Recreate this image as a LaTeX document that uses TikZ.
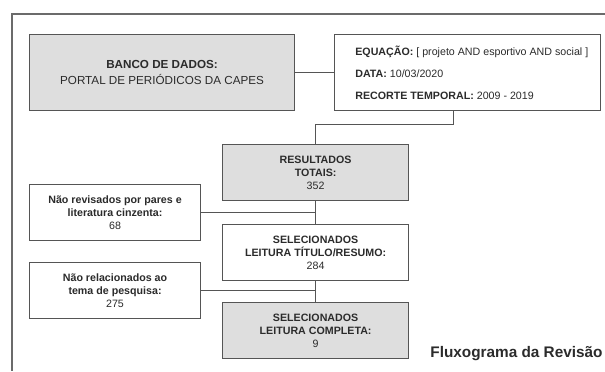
\documentclass[tikz,border=0pt]{standalone}
\usepackage{fontspec}
\setmainfont{Liberation Sans}
\usetikzlibrary{positioning}
\definecolor{boxline}{HTML}{555555}
\definecolor{boxfill}{HTML}{DEDEDE}
\definecolor{txtgray}{HTML}{2B2B2B}
\definecolor{framegray}{HTML}{6B6B6B}
\newcommand{\boxfont}{\fontsize{8}{9.6}\selectfont}
\tikzstyle{gbox}=[rectangle, draw=boxline, fill=boxfill, line width=0.8pt,
                  inner sep=0pt, align=center, text=txtgray, font=\boxfont]
\tikzstyle{wbox}=[gbox, fill=white]
\tikzstyle{cbox}=[minimum width=139.5pt, minimum height=42pt]
\tikzstyle{lbox}=[wbox, minimum width=128.25pt, minimum height=42pt]
\tikzstyle{eqtext}=[inner sep=0pt, align=left, text=txtgray, font=\boxfont]
\tikzstyle{ttext}=[inner sep=0pt, text=txtgray, font=\fontsize{11.5}{13}\selectfont\bfseries]
\tikzstyle{pline}=[-, line width=0.8pt, draw=boxline]

\begin{document}
\begin{tikzpicture}[node distance=0mm]
\useasboundingbox (0,0) rectangle (453.75pt,-278.25pt);

% frame
\coordinate (FRTL) at (9pt,-10.5pt);
\draw[line width=0.8pt, draw=framegray] (453.75pt,-10.5pt) -- (FRTL) -- (9pt,-278.25pt);

\node (BANCO) [gbox, minimum width=198.75pt, minimum height=57pt, anchor=north west,
  font=\fontsize{8.75}{11.5}\selectfont]
  at (21.75pt,-25.5pt) {\textbf{BANCO DE DADOS:}\\PORTAL DE PERIÓDICOS DA CAPES};

\node (EQ) [wbox, minimum width=199.5pt, minimum height=57pt, right=29.25pt of BANCO] {};
\node (EQtxt) [eqtext, anchor=west] at ([xshift=15.75pt]EQ.west)
  {\textbf{EQUAÇÃO:} [ projeto AND esportivo AND social ]\\[6.9pt]
   \textbf{DATA:} 10/03/2020\\[6.9pt]
   \textbf{RECORTE TEMPORAL:} 2009 - 2019};

 \draw[pline] (BANCO.east) -- (EQ.west);

\node (RES) [gbox, cbox, below right=24.75pt and -54.75pt of BANCO]
  {\textbf{RESULTADOS}\\\textbf{TOTAIS:}\\352};

 \draw[pline] ([xshift=-10.5pt]EQ.south) -- ++(0,-9.75pt) -| (RES.north);

\node (SEL) [wbox, cbox, below=17.25pt of RES]
  {\textbf{SELECIONADOS}\\\textbf{LEITURA TÍTULO/RESUMO:}\\284};
\node (FIN) [gbox, cbox, below=15.75pt of SEL]
  {\textbf{SELECIONADOS}\\\textbf{LEITURA COMPLETA:}\\9};

\node (NREV) [lbox, below right=54.75pt and 0pt of BANCO.south west]
  {\textbf{Não revisados por pares e}\\\textbf{literatura cinzenta:}\\68};
\node (NREL) [lbox, below=15.75pt of NREV]
  {\textbf{Não relacionados ao}\\\textbf{tema de pesquisa:}\\275};

 \draw[pline] (RES.south) -- (SEL.north);
 \draw[pline] (NREV.east) -- (NREV.east -| RES.south);
 \draw[pline] (SEL.south) -- (FIN.north);
 \draw[pline] (NREL.east) -- (NREL.east -| SEL.south);

\node (TITLE) [ttext, anchor=base west] at ([xshift=15.75pt,yshift=1pt]FIN.south east)
  {Fluxograma da Revisão};

\end{tikzpicture}
\end{document}
